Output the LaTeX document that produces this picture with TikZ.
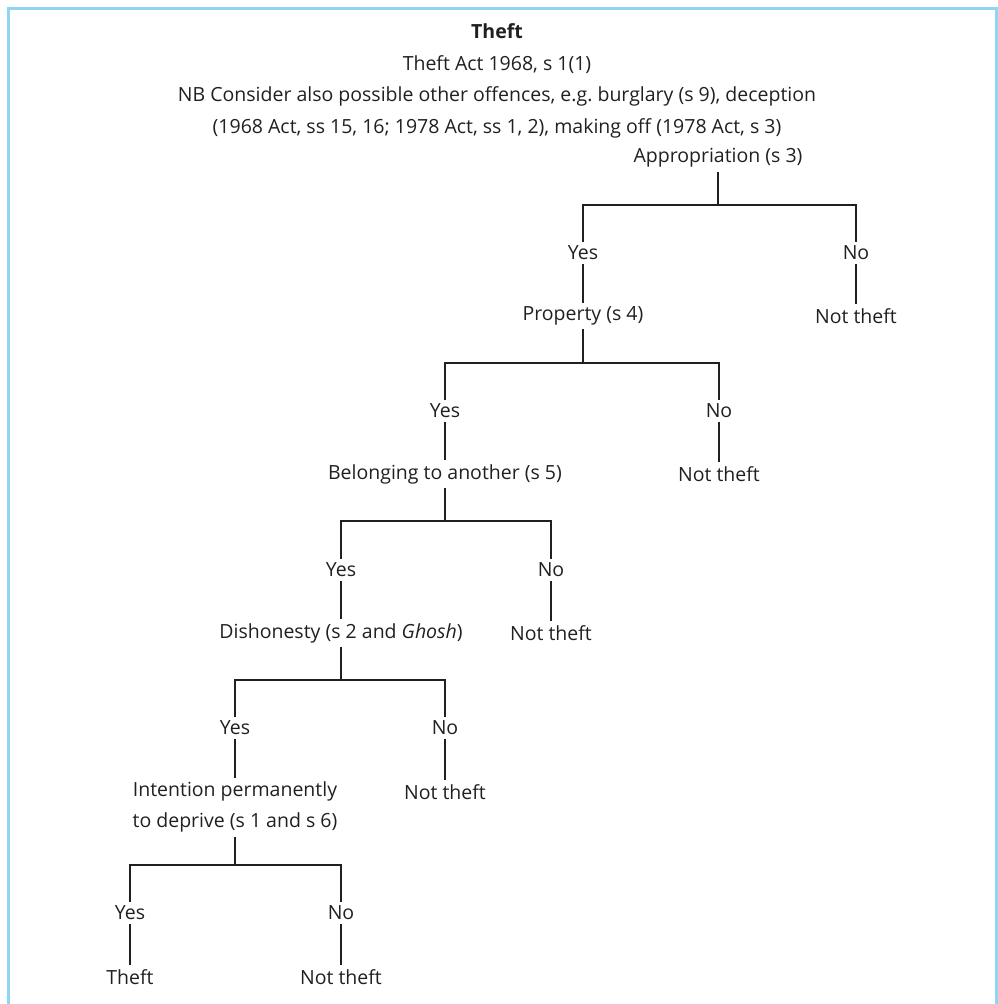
\documentclass[tikz,border=0pt]{standalone}
\usepackage{fontspec}
\setmainfont{Open Sans}
\definecolor{framecol}{HTML}{8FD6F5}
\definecolor{inkcol}{HTML}{231F20}
\begin{document}
\begin{tikzpicture}[x=1pt,y=-1pt,
  lbl/.style={text=inkcol, inner sep=0pt, outer sep=4pt, align=center,
    font=\fontsize{19.5}{31.5}\selectfont},
  branch/.style={draw=inkcol, line width=1.2pt}]
\useasboundingbox (0,0) rectangle (998,1004);
\draw[framecol, line width=3pt] (8.5,1004) -- (8.5,8.5) -- (996.5,8.5) -- (996.5,1004);
% heading
\node[lbl] (head) at (497,81) {\textbf{Theft}\\Theft Act 1968, s 1(1)\\NB Consider also possible other offences, e.g.\ burglary (s 9), deception\\(1968 Act, ss 15, 16; 1978 Act, ss 1, 2), making off (1978 Act, s 3)};
% appropriation
\node[lbl] (app) at (718,158) {Appropriation (s 3)};
\node[lbl] (yes1) at (583,253) {Yes};
\node[lbl] (no1) at (856,253) {No};
\node[lbl] (prop) at (583,316) {Property (s 4)};
\node[lbl] (nt1) at (856,316) {Not theft};
\coordinate (j1) at (718,205);
% property
\node[lbl] (yes2) at (445,411) {Yes};
\node[lbl] (no2) at (719,411) {No};
\node[lbl] (belong) at (445,474) {Belonging to another (s 5)};
\node[lbl] (nt2) at (719,474) {Not theft};
\coordinate (j2) at (583,363);
% belonging
\node[lbl] (yes3) at (341,570) {Yes};
\node[lbl] (no3) at (551,570) {No};
\node[lbl] (dish) at (341,633) {Dishonesty (s 2 and \textit{Ghosh})};
\node[lbl] (nt3) at (551,633) {Not theft};
\coordinate (j3) at (445,521);
% dishonesty
\node[lbl] (yes4) at (235,728) {Yes};
\node[lbl] (no4) at (445,728) {No};
\node[lbl] (intent) at (235,807) {Intention permanently\\to deprive (s 1 and s 6)};
\node[lbl] (nt4) at (445,792) {Not theft};
\coordinate (j4) at (341,680);
% intention
\node[lbl] (yes5) at (130,913) {Yes};
\node[lbl] (no5) at (341,913) {No};
\node[lbl] (theft) at (130,977) {Theft};
\node[lbl] (nt5) at (341,977) {Not theft};
\coordinate (j5) at (235,865);
% connectors
\draw[branch] (app) -- (j1);
\draw[branch] (yes1) |- (j1) -| (no1);
\draw[branch] (yes1) -- (prop);
\draw[branch] (no1) -- (nt1);
\draw[branch] (prop) -- (j2);
\draw[branch] (yes2) |- (j2) -| (no2);
\draw[branch] (yes2) -- (belong);
\draw[branch] (no2) -- (nt2);
\draw[branch] (belong) -- (j3);
\draw[branch] (yes3) |- (j3) -| (no3);
\draw[branch] (yes3) -- (dish);
\draw[branch] (no3) -- (nt3);
\draw[branch] (dish) -- (j4);
\draw[branch] (yes4) |- (j4) -| (no4);
\draw[branch] (yes4) -- (intent);
\draw[branch] (no4) -- (nt4);
\draw[branch] (intent) -- (j5);
\draw[branch] (yes5) |- (j5) -| (no5);
\draw[branch] (yes5) -- (theft);
\draw[branch] (no5) -- (nt5);
\end{tikzpicture}
\end{document}
